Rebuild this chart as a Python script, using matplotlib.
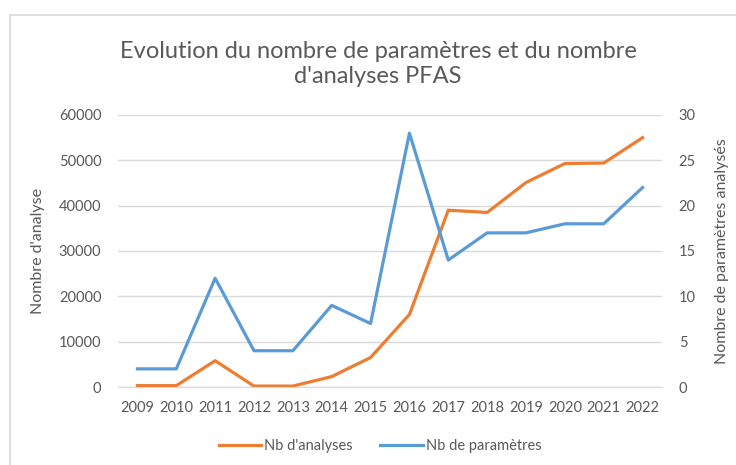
import matplotlib.pyplot as plt
from matplotlib.patches import Rectangle

years = ['2009', '2010', '2011', '2012', '2013', '2014', '2015', '2016',
         '2017', '2018', '2019', '2020', '2021', '2022']
nb_analyses = [300, 300, 5800, 200, 200, 2300, 6500, 16000,
               39000, 38500, 45100, 49300, 49400, 55000]
nb_parametres = [2, 2, 12, 4, 4, 9, 7, 28, 14, 17, 17, 18, 18, 22]

orange = '#ED7D31'
blue = '#5B9BD5'
grey = '#595959'

plt.rcParams['font.family'] = ['Lato', 'DejaVu Sans']

fig = plt.figure(figsize=(7.36, 4.65), dpi=100)
# chart area frame (only left and top edges show in the crop)
top = 1 - 15 / 465
fig.patches.append(Rectangle((10 / 736, -0.1), 1.0, top + 0.1,
                             transform=fig.transFigure, fill=False,
                             edgecolor='#D9D9D9', linewidth=1.2))

ax = fig.add_axes([118 / 736, 1 - 387 / 465, 544 / 736, 272 / 465])
ax2 = ax.twinx()

x = list(range(len(years)))
l1, = ax.plot(x, nb_analyses, color=orange, linewidth=2.3, label="Nb d'analyses")
l2, = ax2.plot(x, nb_parametres, color=blue, linewidth=2.3, label='Nb de paramètres')

ax.set_xlim(-0.5, len(years) - 0.5)
ax.set_ylim(0, 60000)
ax2.set_ylim(0, 30)
ax.set_yticks(range(0, 60001, 10000))
ax2.set_yticks(range(0, 31, 5))
ax.set_xticks(x)
ax.set_xticklabels(years)

ax.grid(axis='y', color='#D9D9D9', linewidth=1)
ax.set_axisbelow(True)
for a in (ax, ax2):
    for s in a.spines.values():
        s.set_visible(False)
    a.tick_params(length=0, labelsize=10.5, colors=grey, pad=12)
ax.tick_params(axis='x', pad=10)
ax.spines['bottom'].set_visible(True)
ax.spines['bottom'].set_color('#D9D9D9')

ax.set_ylabel("Nombre d'analyse", fontsize=11.5, color=grey)
ax.yaxis.set_label_coords(-73 / 544, 0.5)
ax2.set_ylabel('Nombre de paramètres analysés', fontsize=11.5, color=grey,
               rotation=90)
ax2.yaxis.set_label_coords(597 / 544, 0.5)

fig.text(378 / 736, 1 - 64 / 465,
         "Evolution du nombre de paramètres et du nombre\nd'analyses PFAS",
         ha='center', va='center', fontsize=17, color=grey, linespacing=1.2)

fig.legend(handles=[l1, l2], loc='center', bbox_to_anchor=(380 / 736, 1 - 446 / 465),
           ncol=2, frameon=False, fontsize=10.5, labelcolor=grey,
           handlelength=2.9, handletextpad=0.2, columnspacing=1.9)

fig.savefig('out.png', dpi=100)
